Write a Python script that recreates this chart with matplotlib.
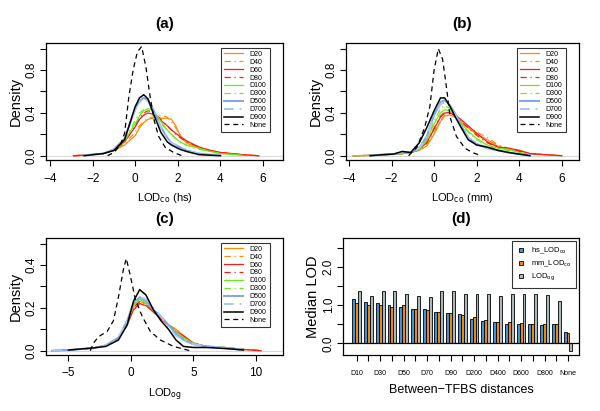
import matplotlib
matplotlib.use("Agg")
import matplotlib.pyplot as plt
from matplotlib.lines import Line2D
import numpy as np

plt.rcParams['font.family'] = ['Liberation Sans', 'DejaVu Sans']

nan = np.nan
series_names = ["D20", "D40", "D60", "D80", "D100", "D300", "D500", "D700", "D900", "None"]

# ---- panel (a): LODco (hs) densities ----
a_x = [-2.9, -2.4, -2.0, -1.5, -1.0, -0.5, 0.0, 0.2, 0.4, 0.6, 0.8, 1.0, 1.2, 1.5, 1.7, 1.9, 2.1, 2.4, 3.0, 3.5, 4.0, 5.0, 5.8]
a_y = {
    "D20":  [0, 0.005, 0.01, 0.02, 0.05, 0.10, 0.19, 0.26, 0.31, 0.34, 0.35, 0.36, 0.35, 0.35, 0.34, 0.28, 0.19, 0.12, 0.07, 0.05, 0.03, 0.01, 0],
    "D40":  [0, 0.005, 0.01, 0.02, 0.05, 0.11, 0.22, 0.28, 0.32, 0.35, 0.36, 0.37, 0.38, 0.36, 0.32, 0.26, 0.20, 0.13, 0.08, 0.05, 0.03, 0.01, 0],
    "D60":  [0, 0.005, 0.01, 0.02, 0.05, 0.13, 0.27, 0.34, 0.38, 0.40, 0.39, 0.37, 0.33, 0.28, 0.24, 0.21, 0.18, 0.14, 0.08, 0.05, 0.03, 0.01, 0],
    "D80":  [0, 0.005, 0.01, 0.02, 0.05, 0.13, 0.28, 0.35, 0.40, 0.42, 0.41, 0.38, 0.34, 0.28, 0.24, 0.20, 0.17, 0.13, 0.08, 0.05, 0.03, 0.01, nan],
    "D100": [nan, 0.005, 0.01, 0.02, 0.05, 0.14, 0.30, 0.37, 0.42, 0.44, 0.43, 0.38, 0.32, 0.24, 0.20, 0.16, 0.13, 0.10, 0.07, 0.04, 0.02, 0.005, nan],
    "D300": [nan, 0.005, 0.01, 0.02, 0.06, 0.15, 0.33, 0.40, 0.43, 0.42, 0.39, 0.35, 0.30, 0.24, 0.20, 0.16, 0.13, 0.10, 0.06, 0.04, 0.02, 0.005, nan],
    "D500": [nan, 0.005, 0.01, 0.02, 0.06, 0.16, 0.44, 0.51, 0.54, 0.52, 0.45, 0.36, 0.27, 0.17, 0.12, 0.10, 0.08, 0.05, 0.02, 0.01, 0.005, nan, nan],
    "D700": [nan, 0.005, 0.01, 0.02, 0.06, 0.16, 0.43, 0.50, 0.53, 0.51, 0.44, 0.36, 0.27, 0.17, 0.12, 0.10, 0.08, 0.05, 0.02, 0.01, 0.005, nan, nan],
    "D900": [nan, 0.0, 0.01, 0.02, 0.05, 0.15, 0.46, 0.54, 0.57, 0.53, 0.42, 0.32, 0.22, 0.13, 0.10, 0.08, 0.06, 0.04, 0.01, 0.005, 0.0, nan, nan],
}
a_none_x = [-1.3, -1.0, -0.7, -0.5, -0.3, -0.1, 0.1, 0.3, 0.5, 0.7, 0.9, 1.1, 1.4, 1.8, 2.2]
a_none_y = [0, 0.03, 0.10, 0.21, 0.55, 0.80, 0.97, 1.02, 0.83, 0.55, 0.32, 0.18, 0.08, 0.03, 0.0]

# ---- panel (b): LODco (mm) densities ----
b_x = [-3.8, -3.0, -2.4, -1.9, -1.5, -1.1, -0.7, -0.35, 0.0, 0.3, 0.5, 0.75, 1.0, 1.25, 1.6, 2.0, 2.5, 3.0, 3.5, 4.0, 4.5, 5.2, 6.0]
b_y = {
    "D20":  [0, 0.003, 0.01, 0.015, 0.02, 0.03, 0.05, 0.09, 0.20, 0.32, 0.37, 0.38, 0.36, 0.32, 0.26, 0.20, 0.15, 0.09, 0.06, 0.05, 0.02, 0.01, 0],
    "D40":  [0, 0.003, 0.01, 0.015, 0.02, 0.03, 0.05, 0.10, 0.22, 0.33, 0.38, 0.39, 0.37, 0.33, 0.27, 0.22, 0.17, 0.10, 0.07, 0.05, 0.02, 0.01, 0],
    "D60":  [0, 0.003, 0.01, 0.015, 0.02, 0.03, 0.06, 0.12, 0.25, 0.36, 0.40, 0.40, 0.38, 0.34, 0.28, 0.21, 0.13, 0.08, 0.07, 0.05, 0.02, 0.01, 0],
    "D80":  [0, 0.003, 0.01, 0.015, 0.02, 0.03, 0.06, 0.12, 0.26, 0.37, 0.41, 0.40, 0.37, 0.32, 0.26, 0.19, 0.12, 0.08, 0.07, 0.04, 0.02, 0.01, nan],
    "D100": [0, 0.003, 0.01, 0.015, 0.02, 0.03, 0.06, 0.14, 0.30, 0.40, 0.43, 0.42, 0.38, 0.31, 0.23, 0.16, 0.10, 0.07, 0.06, 0.03, 0.01, nan, nan],
    "D300": [0, 0.003, 0.01, 0.015, 0.02, 0.03, 0.06, 0.15, 0.32, 0.44, 0.47, 0.44, 0.38, 0.30, 0.22, 0.15, 0.09, 0.06, 0.05, 0.03, 0.01, nan, nan],
    "D500": [nan, 0.003, 0.01, 0.015, 0.03, 0.03, 0.07, 0.18, 0.38, 0.50, 0.52, 0.47, 0.39, 0.29, 0.17, 0.11, 0.07, 0.05, 0.03, 0.015, 0.005, nan, nan],
    "D700": [nan, 0.003, 0.01, 0.015, 0.03, 0.03, 0.07, 0.18, 0.37, 0.48, 0.50, 0.46, 0.38, 0.28, 0.17, 0.11, 0.07, 0.05, 0.03, 0.015, 0.005, nan, nan],
    "D900": [nan, 0.0, 0.01, 0.015, 0.04, 0.03, 0.12, 0.26, 0.42, 0.54, 0.54, 0.46, 0.36, 0.27, 0.15, 0.10, 0.08, 0.05, 0.03, 0.015, 0.0, nan, nan],
}
b_none_x = [-1.2, -0.8, -0.45, -0.2, 0.0, 0.2, 0.4, 0.6, 0.75, 1.05, 1.45, 1.8, 2.2]
b_none_y = [0, 0.08, 0.26, 0.46, 0.80, 1.00, 0.90, 0.61, 0.36, 0.18, 0.07, 0.03, 0.0]

# ---- panel (c): LODog densities ----
c_x = [-6.3, -5.0, -4.0, -3.0, -2.0, -1.0, -0.3, 0.2, 0.7, 1.2, 1.8, 2.4, 3.0, 3.6, 4.2, 5.0, 6.0, 7.0, 8.0, 9.0, 10.4]
c_y = {
    "D20":  [0, 0.003, 0.008, 0.012, 0.025, 0.06, 0.13, 0.20, 0.23, 0.22, 0.18, 0.15, 0.12, 0.10, 0.07, 0.035, 0.02, 0.018, 0.012, 0.006, 0],
    "D40":  [0, 0.003, 0.008, 0.012, 0.025, 0.06, 0.13, 0.20, 0.23, 0.22, 0.19, 0.15, 0.12, 0.10, 0.07, 0.035, 0.02, 0.018, 0.012, 0.006, 0],
    "D60":  [0, 0.003, 0.008, 0.012, 0.025, 0.06, 0.12, 0.19, 0.22, 0.21, 0.18, 0.15, 0.12, 0.09, 0.07, 0.035, 0.02, 0.017, 0.012, 0.006, 0],
    "D80":  [0, 0.003, 0.008, 0.012, 0.025, 0.06, 0.13, 0.20, 0.23, 0.22, 0.18, 0.15, 0.12, 0.09, 0.06, 0.035, 0.02, 0.017, 0.012, 0.006, 0],
    "D100": [0, 0.003, 0.008, 0.012, 0.025, 0.06, 0.13, 0.21, 0.24, 0.22, 0.19, 0.16, 0.12, 0.09, 0.06, 0.035, 0.02, 0.017, 0.012, 0.005, nan],
    "D300": [0, 0.003, 0.008, 0.012, 0.025, 0.06, 0.13, 0.21, 0.24, 0.23, 0.19, 0.16, 0.12, 0.08, 0.06, 0.03, 0.02, 0.017, 0.012, 0.005, nan],
    "D500": [0, 0.003, 0.008, 0.012, 0.025, 0.06, 0.14, 0.22, 0.25, 0.23, 0.19, 0.16, 0.12, 0.08, 0.05, 0.03, 0.02, 0.016, 0.01, 0.004, nan],
    "D700": [0, 0.003, 0.008, 0.012, 0.025, 0.06, 0.14, 0.22, 0.25, 0.24, 0.20, 0.16, 0.11, 0.07, 0.05, 0.03, 0.02, 0.016, 0.01, 0.004, nan],
    "D900": [nan, 0.003, 0.008, 0.013, 0.02, 0.05, 0.12, 0.23, 0.285, 0.26, 0.19, 0.14, 0.10, 0.05, 0.02, 0.015, 0.015, 0.012, 0.008, 0.003, nan],
}
c_none_x = [-3.25, -3.0, -2.6, -1.9, -1.4, -1.0, -0.6, -0.37, -0.05, 0.35, 0.9, 1.55, 2.35, 3.4, 4.7]
c_none_y = [0, 0.035, 0.065, 0.09, 0.14, 0.25, 0.38, 0.43, 0.35, 0.24, 0.16, 0.09, 0.05, 0.02, 0.0]

# ---- panel (d): median LOD per between-TFBS distance ----
d_groups = ["D10", "D20", "D30", "D40", "D50", "D60", "D70", "D80", "D90", "D100",
            "D200", "D300", "D400", "D500", "D600", "D700", "D800", "D900", "None"]
hs_lodco = [1.17, 1.09, 1.06, 1.00, 0.94, 0.91, 0.89, 0.83, 0.80, 0.78, 0.65, 0.59, 0.55, 0.52, 0.50, 0.50, 0.48, 0.50, 0.29]
mm_lodco = [1.06, 1.00, 1.00, 0.94, 1.00, 0.91, 0.86, 0.83, 0.80, 0.73, 0.70, 0.60, 0.57, 0.57, 0.54, 0.52, 0.50, 0.52, 0.26]
lod_og   = [1.36, 1.24, 1.36, 1.36, 1.30, 1.23, 1.20, 1.36, 1.36, 1.29, 1.30, 1.30, 1.24, 1.30, 1.29, 1.28, 1.26, 1.11, -0.19]

styles = {
    "D20":  dict(color="#ff8c00", ls="-", lw=0.9),
    "D40":  dict(color="#ff8c00", ls=(0, (5, 3, 1, 3)), lw=0.9),
    "D60":  dict(color="#ff1a1a", ls="-", lw=0.9),
    "D80":  dict(color="#ff1a1a", ls=(0, (5, 3, 1, 3)), lw=0.9),
    "D100": dict(color="#66ee1a", ls="-", lw=0.9),
    "D300": dict(color="#66ee1a", ls=(0, (5, 3, 1, 3)), lw=0.9),
    "D500": dict(color="#7aa6ee", ls="-", lw=1.4),
    "D700": dict(color="#a9c7f2", ls=(0, (5, 3, 1, 3)), lw=1.4),
    "D900": dict(color="black", ls="-", lw=1.1),
    "None": dict(color="black", ls=(0, (4, 3)), lw=0.9),
}

fig = plt.figure(figsize=(6, 4.11), dpi=100)


def density_panel(rect, title, xs, ys, none_x, none_y, xlim, ylim, yticks, ylabels, xticks, xlabel):
    ax = fig.add_axes(rect)
    ax.axhline(0, color="#d8d8d8", lw=0.8, zorder=0)
    for name in series_names[:-1]:
        ax.plot(xs, ys[name], **styles[name])
    ax.plot(none_x, none_y, **styles["None"])
    ax.set_xlim(*xlim)
    ax.set_ylim(*ylim)
    ax.set_yticks(yticks)
    ax.set_yticklabels(ylabels, rotation=90, va="center")
    ax.set_xticks(xticks)
    ax.set_xticklabels([f"{t:g}".replace("-", "\u2212") for t in xticks])
    ax.tick_params(direction="out", length=4, width=0.8, labelsize=8.5, pad=2)
    ax.tick_params(axis="x", pad=5)
    for s in ax.spines.values():
        s.set_linewidth(0.9)
    ax.set_ylabel("Density", fontsize=10.5, labelpad=2)
    ax.set_xlabel(xlabel, fontsize=8, labelpad=5)
    ax.set_title(title, fontsize=11, fontweight="bold", pad=11)
    handles = [Line2D([], [], **styles[n]) for n in series_names]
    leg = ax.legend(handles, series_names, loc="upper right", bbox_to_anchor=(0.943, 0.96),
                    fontsize=5, frameon=True, fancybox=False, handlelength=2.8,
                    labelspacing=0.13, borderpad=0.45, handletextpad=0.9, borderaxespad=0.0)
    leg.get_frame().set_edgecolor("black")
    leg.get_frame().set_linewidth(0.8)
    return ax


density_panel([0.0767, 0.6107, 0.395, 0.2847], "(a)", a_x, a_y, a_none_x, a_none_y,
              (-4.19, 6.94), (-0.04, 1.053), [0, 0.2, 0.4, 0.6, 0.8, 1.0],
              ["0.0", "", "0.4", "", "0.8", ""], [-4, -2, 0, 2, 4, 6], "LOD$_{\\mathrm{co}}$ (hs)")
density_panel([0.5767, 0.6107, 0.3883, 0.2847], "(b)", b_x, b_y, b_none_x, b_none_y,
              (-4.14, 6.81), (-0.04, 1.053), [0, 0.2, 0.4, 0.6, 0.8, 1.0],
              ["0.0", "", "0.4", "", "0.8", ""], [-4, -2, 0, 2, 4, 6], "LOD$_{\\mathrm{co}}$ (mm)")
density_panel([0.0767, 0.1363, 0.395, 0.2847], "(c)", c_x, c_y, c_none_x, c_none_y,
              (-6.79, 12.16), (-0.02, 0.526), [0, 0.1, 0.2, 0.3, 0.4, 0.5],
              ["0.0", "", "0.2", "", "0.4", ""], [-5, 0, 5, 10], "LOD$_{\\mathrm{og}}$")

# ---- bar panel ----
ax = fig.add_axes([0.5717, 0.1363, 0.3933, 0.2847])
centers = np.arange(len(d_groups)) * 4 + 2.5
bar_cols = ["#3d92e3", "#ec8a00", "#aab8bb"]
for off, vals, col in zip([-1, 0, 1], [hs_lodco, mm_lodco, lod_og], bar_cols):
    ax.bar(centers + off, vals, width=1.0, color=col, edgecolor="black", linewidth=0.6, zorder=2)
ax.axhline(0, color="black", lw=0.9, zorder=3)
ax.set_xlim(-2.17, 78.25)
ax.set_ylim(-0.30, 2.75)
ax.set_yticks([0, 0.5, 1.0, 1.5, 2.0, 2.5])
ax.set_yticklabels(["0.0", "", "1.0", "", "2.0", ""], rotation=90, va="center")
ax.set_xticks(centers)
ax.set_xticklabels([g if i % 2 == 0 else "" for i, g in enumerate(d_groups)])
ax.tick_params(direction="out", length=4, width=0.8, labelsize=8.5, pad=2)
ax.tick_params(axis="x", labelsize=5, pad=7)
for s in ax.spines.values():
    s.set_linewidth(0.9)
ax.set_ylabel("Median LOD", fontsize=10.5, labelpad=2)
ax.set_xlabel("Between\u2212TFBS distances", fontsize=9, labelpad=5)
ax.set_title("(d)", fontsize=11, fontweight="bold", pad=11)
bar_handles = [Line2D([], [], ls="none", marker="s", markersize=3.5, markerfacecolor=c,
                      markeredgecolor="black", markeredgewidth=0.6) for c in bar_cols]
leg = ax.legend(bar_handles, ["hs_LOD$_{\\mathrm{co}}$", "mm_LOD$_{\\mathrm{co}}$", "LOD$_{\\mathrm{og}}$"],
                loc="upper right", fontsize=5.5, frameon=True, fancybox=False, handlelength=1.0,
                labelspacing=0.35, borderpad=0.6, handletextpad=0.8, borderaxespad=0.4)
leg.get_frame().set_edgecolor("black")
leg.get_frame().set_linewidth(0.8)

fig.savefig("out.png", dpi=100)
